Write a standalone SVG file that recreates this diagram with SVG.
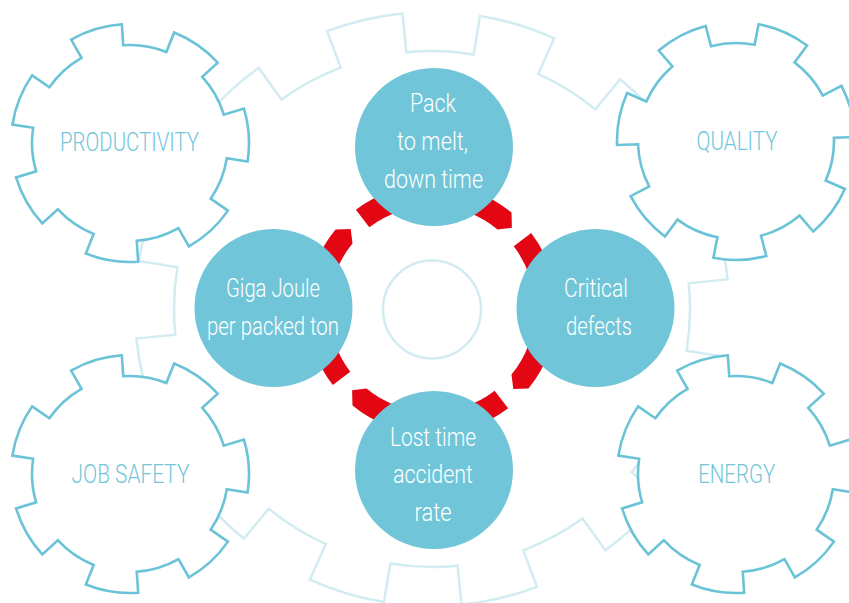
<svg xmlns="http://www.w3.org/2000/svg" xmlns:xlink="http://www.w3.org/1999/xlink" width="849" height="603" viewBox="0 0 849 603">
<style>
.big{fill:#ffffff;stroke:#d2ecf2;stroke-width:2.5;stroke-linejoin:miter}
.hub{fill:none;stroke:#d2ecf2;stroke-width:2.5}
.gear{fill:#ffffff;stroke:#6ac3d6;stroke-width:2.6;stroke-linejoin:miter}
.glabel{font-family:'Liberation Sans Narrow','Roboto',sans-serif;font-weight:300;font-size:26px;fill:#72c6d9;text-anchor:middle}
.disc{fill:#70c6d8}
.dlabel{font-family:'Liberation Sans Narrow','Roboto',sans-serif;font-weight:300;font-size:26px;fill:#ffffff;text-anchor:middle}
.arrow{fill:#e30613}
</style>
<defs>
<path id="smallgear" d="M -26.48 -116.02 A 119 119 0 0 1 26.48 -116.02 L 21.81 -95.54 A 98 98 0 0 1 61.10 -76.62 L 74.20 -93.04 A 119 119 0 0 1 107.22 -51.63 L 88.30 -42.52 A 98 98 0 0 1 98 0 L 119 0 A 119 119 0 0 1 107.22 51.63 L 88.30 42.52 A 98 98 0 0 1 61.10 76.62 L 74.20 93.04 A 119 119 0 0 1 26.48 116.02 L 21.81 95.54 A 98 98 0 0 1 -21.81 95.54 L -26.48 116.02 A 119 119 0 0 1 -74.20 93.04 L -61.10 76.62 A 98 98 0 0 1 -88.30 42.52 L -107.22 51.63 A 119 119 0 0 1 -119 0 L -98 0 A 98 98 0 0 1 -88.30 -42.52 L -107.22 -51.63 A 119 119 0 0 1 -74.20 -93.04 L -61.10 -76.62 A 98 98 0 0 1 -21.81 -95.54 Z"/>
<path id="redarc" d="M -76.10 -99.17 A 125 125 0 0 1 79.51 -96.45 L 79.90 -81.31 L 65.52 -79.48 A 103 103 0 0 0 -62.70 -81.72 Z"/>
</defs>

<g id="big-gear">
<path class="big" transform="translate(432,309) rotate(16.8)" d="M -38.77 -294.46 A 297 297 0 0 1 38.77 -294.46 L 33.68 -255.79 A 258 258 0 0 1 98.73 -238.36 L 113.66 -274.39 A 297 297 0 0 1 180.80 -235.63 L 157.06 -204.69 A 258 258 0 0 1 204.69 -157.06 L 235.63 -180.80 A 297 297 0 0 1 274.39 -113.66 L 238.36 -98.73 A 258 258 0 0 1 255.79 -33.68 L 294.46 -38.77 A 297 297 0 0 1 294.46 38.77 L 255.79 33.68 A 258 258 0 0 1 238.36 98.73 L 274.39 113.66 A 297 297 0 0 1 235.63 180.80 L 204.69 157.06 A 258 258 0 0 1 157.06 204.69 L 180.80 235.63 A 297 297 0 0 1 113.66 274.39 L 98.73 238.36 A 258 258 0 0 1 33.68 255.79 L 38.77 294.46 A 297 297 0 0 1 -38.77 294.46 L -33.68 255.79 A 258 258 0 0 1 -98.73 238.36 L -113.66 274.39 A 297 297 0 0 1 -180.80 235.63 L -157.06 204.69 A 258 258 0 0 1 -204.69 157.06 L -235.63 180.80 A 297 297 0 0 1 -274.39 113.66 L -238.36 98.73 A 258 258 0 0 1 -255.79 33.68 L -294.46 38.77 A 297 297 0 0 1 -294.46 -38.77 L -255.79 -33.68 A 258 258 0 0 1 -238.36 -98.73 L -274.39 -113.66 A 297 297 0 0 1 -235.63 -180.80 L -204.69 -157.06 A 258 258 0 0 1 -157.06 -204.69 L -180.80 -235.63 A 297 297 0 0 1 -113.66 -274.39 L -98.73 -238.36 A 258 258 0 0 1 -33.68 -255.79 Z"/>
<circle class="hub" cx="432" cy="309.5" r="49"/>
</g>

<g id="gear-productivity">
<use xlink:href="#smallgear" href="#smallgear" class="gear" transform="translate(130,143) rotate(-16.8)"/>
<text class="glabel" x="129.5" y="151" textLength="139" lengthAdjust="spacingAndGlyphs">PRODUCTIVITY</text>
</g>
<g id="gear-quality">
<use xlink:href="#smallgear" href="#smallgear" class="gear" transform="translate(736,141) rotate(23.8)"/>
<text class="glabel" x="737" y="149.5" textLength="81" lengthAdjust="spacingAndGlyphs">QUALITY</text>
</g>
<g id="gear-job-safety">
<use xlink:href="#smallgear" href="#smallgear" class="gear" transform="translate(130,474) rotate(-16.8)"/>
<text class="glabel" x="130.5" y="482.5" textLength="118" lengthAdjust="spacingAndGlyphs">JOB SAFETY</text>
</g>
<g id="gear-energy">
<use xlink:href="#smallgear" href="#smallgear" class="gear" transform="translate(736,474) rotate(-16.8)"/>
<text class="glabel" x="736.7" y="482.5" textLength="77" lengthAdjust="spacingAndGlyphs">ENERGY</text>
</g>

<g id="connectors">
<use xlink:href="#redarc" href="#redarc" class="arrow" transform="translate(432,309)"/>
<use xlink:href="#redarc" href="#redarc" class="arrow" transform="translate(432,309) rotate(90)"/>
<use xlink:href="#redarc" href="#redarc" class="arrow" transform="translate(432,309) rotate(180)"/>
<use xlink:href="#redarc" href="#redarc" class="arrow" transform="translate(432,309) rotate(270)"/>
</g>

<g id="node-pack">
<circle class="disc" cx="434" cy="147" r="79"/>
<text class="dlabel" x="433" y="111.5" textLength="46" lengthAdjust="spacingAndGlyphs">Pack</text>
<text class="dlabel" x="432.5" y="149.5" textLength="71" lengthAdjust="spacingAndGlyphs">to melt,</text>
<text class="dlabel" x="433.5" y="187.5" textLength="99" lengthAdjust="spacingAndGlyphs">down time</text>
</g>
<g id="node-giga">
<circle class="disc" cx="273.5" cy="308" r="79"/>
<text class="dlabel" x="273" y="297" textLength="94" lengthAdjust="spacingAndGlyphs">Giga Joule</text>
<text class="dlabel" x="273" y="335" textLength="132" lengthAdjust="spacingAndGlyphs">per packed ton</text>
</g>
<g id="node-critical">
<circle class="disc" cx="595.5" cy="308" r="79"/>
<text class="dlabel" x="596" y="297" textLength="64" lengthAdjust="spacingAndGlyphs">Critical</text>
<text class="dlabel" x="599" y="335" textLength="66" lengthAdjust="spacingAndGlyphs">defects</text>
</g>
<g id="node-lost">
<circle class="disc" cx="434" cy="470" r="79"/>
<text class="dlabel" x="433" y="446" textLength="86" lengthAdjust="spacingAndGlyphs">Lost time</text>
<text class="dlabel" x="433" y="483" textLength="80" lengthAdjust="spacingAndGlyphs">accident</text>
<text class="dlabel" x="433" y="520.5" textLength="37" lengthAdjust="spacingAndGlyphs">rate</text>
</g>
</svg>
